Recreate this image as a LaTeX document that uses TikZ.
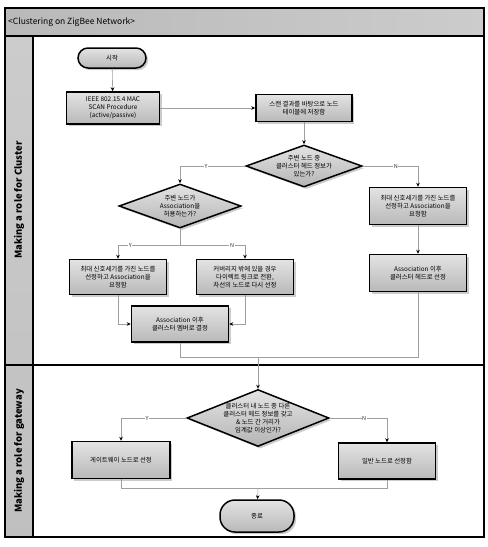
\documentclass[tikz,border=0pt]{standalone}
\usepackage{fontspec}
\setmainfont{Noto Sans CJK KR}
\usetikzlibrary{shapes.geometric,arrows.meta,shadows,calc}
\begin{document}
\begin{tikzpicture}[x=1pt,y=-1pt,
  boxfont/.style={font=\fontsize{6.4}{7.8}\selectfont},
  shadowed/.style={drop shadow={opacity=0.4, shadow xshift=2.2pt, shadow yshift=-2.2pt}},
  proc/.style={rectangle, draw=black, line width=1.5pt, top color=gray!22, bottom color=gray!55,
    minimum width=97pt, minimum height=36pt, align=center, boxfont, inner sep=1pt, shadowed},
  pill/.style={rectangle, rounded corners=10pt, draw=black, line width=1.5pt, top color=gray!22, bottom color=gray!55,
    align=center, boxfont, inner sep=1pt, shadowed},
  dec/.style={diamond, draw=black, line width=1.5pt, top color=gray!22, bottom color=gray!58, inner sep=0pt, shadowed},
  dectext/.style={align=center, boxfont, inner sep=0pt},
  wire/.style={draw=gray!75, line width=0.6pt},
  conn/.style={wire, -{Stealth[length=4pt,width=3.6pt,black]}},
  yn/.style={fill=white, inner sep=0.6pt, font=\fontsize{5.5}{6}\selectfont, text=black!80},
  lanetxt/.style={rotate=90, font=\fontsize{9.5}{11}\selectfont\bfseries}
]
\useasboundingbox (0,0) rectangle (488,547);
% frame and lanes
\fill[left color=gray!55, right color=gray!40] (5,8) rectangle (484,36);
\fill[top color=gray!40, bottom color=gray!50] (5,36) rectangle (33,537);
\draw[line width=1.5pt] (5,8) rectangle (484,537);
\draw[line width=1.5pt] (5,36) -- (484,36);
\draw[line width=1.5pt] (33,36) -- (33,537);
\draw[line width=1.5pt] (5,365) -- (484,365);
\node[anchor=west, font=\fontsize{8.5}{10}\selectfont, inner sep=0pt] (title) at (8,22) {<Clustering on ZigBee Network>};
\node[lanetxt] (lane1) at (19,200) {Making a role for Cluster};
\node[lanetxt] (lane2) at (19,451) {Making a role for gateway};

% nodes
\node[pill, minimum width=68pt, minimum height=20pt] (start) at (112,58) {시작};
\node[proc, minimum width=93pt, minimum height=32pt] (ieee) at (113,108) {IEEE 802.15.4 MAC\\SCAN Procedure\\(active/passive)};
\node[proc, minimum width=96pt, minimum height=27pt] (scan) at (304,108) {스캔 결과를 바탕으로 노드\\테이블에 저장함};
\node[dec, minimum width=116pt, minimum height=42pt] (d1) at (304,166) {};
\node[dectext] (d1t) at (d1) {주변 노드 중\\클러스터 헤드 정보가\\있는가?};
\node[proc, minimum height=37pt] (rb1) at (418,206) {최대 신호세기를 가진 노드를\\선정하고 Association을\\요청함};
\node[proc, minimum height=37pt] (rb2) at (418,273) {Association 이후\\클러스터 헤드로 선정};
\node[dec, minimum width=122pt, minimum height=44pt] (d2) at (180,206) {};
\node[dectext] (d2t) at (d2) {주변 노드가\\Association을\\허용하는가?};
\node[proc, minimum height=35pt] (lb) at (118,277) {최대 신호세기를 가진 노드를\\선정하고 Association을\\요청함};
\node[proc, minimum height=35pt] (rbx) at (245,277) {커버리지 밖에 있을 경우\\다이렉트 링크로 전환,\\차선의 노드로 다시 선정};
\node[proc, minimum height=36pt] (mg) at (180,324) {Association 이후\\클러스터 멤버로 결정};
\node[dec, minimum width=142pt, minimum height=57pt] (d3) at (258,418) {};
\node[dectext] (d3t) at (d3) {클러스터 내 노드 중 다른\\클러스터 헤드 정보를 갖고\\\& 노드 간 거리가\\임계값 이상인가?};
\node[proc, minimum width=98pt, minimum height=37pt] (gw) at (121,460) {게이트웨이 노드로 선정};
\node[proc, minimum width=97pt, minimum height=36pt] (nn) at (387,461) {일반 노드로 선정함};
\node[pill, minimum width=74pt, minimum height=32pt, rounded corners=15pt] (end) at (257,516) {종료};

% junctions
\coordinate (jb) at (180,245);
\coordinate (jm) at (258,357);
\coordinate (je) at (258,488);

% connectors
\draw[conn] (start) -- (ieee);
\draw[conn] (ieee) -- (scan);
\draw[conn] (scan) -- (d1);
\draw[conn] (d1.east) -| node[yn, pos=0.3] {N} (rb1);
\draw[conn] (d1.west) -| node[yn, pos=0.3] {Y} (d2);
\draw[conn] (rb1) -- (rb2);
\draw[wire] (d2.south) -- (jb);
\draw[conn] (jb) -| node[yn, pos=0.4] {Y} (lb);
\draw[conn] (jb) -| node[yn, pos=0.4] {N} (rbx);
\draw[conn] (lb.south) |- (mg.west);
\draw[conn] (rbx.south) |- (mg.east);
\draw[wire] (mg.south) |- (jm);
\draw[wire] (rb2.south) |- (jm);
\draw[conn] (jm) -- (d3.north);
\draw[conn] (d3.west) -| node[yn, pos=0.3] {Y} (gw);
\draw[conn] (d3.east) -| node[yn, pos=0.3] {N} (nn);
\draw[wire] (gw.south) |- (je);
\draw[wire] (nn.south) |- (je);
\draw[conn] (je) -- (end);
\end{tikzpicture}
\end{document}
